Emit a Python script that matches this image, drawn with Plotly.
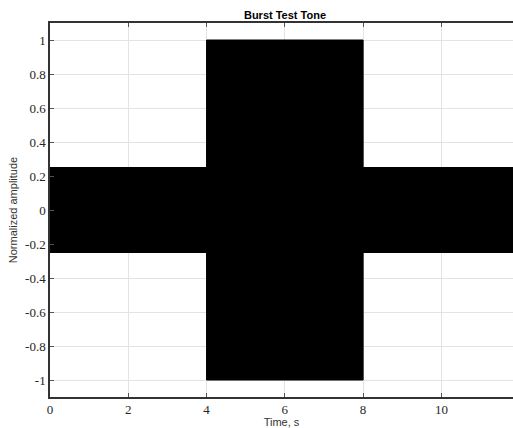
import plotly.graph_objects as go

# Burst tone envelope: segment edges (s) and peak amplitude within each segment
seg_edges = [0, 4, 8, 12]
seg_amplitudes = [0.25, 1.0, 0.25]

x_ticks = [0, 2, 4, 6, 8, 10]
y_ticks = [-1, -0.8, -0.6, -0.4, -0.2, 0, 0.2, 0.4, 0.6, 0.8, 1]
y_tick_labels = ["-1", "-0.8", "-0.6", "-0.4", "-0.2", "0", "0.2", "0.4", "0.6", "0.8", "1"]

# Build the filled envelope polygon (upper edge forward, lower edge backward)
xs, ys = [], []
for i, a in enumerate(seg_amplitudes):
    xs += [seg_edges[i], seg_edges[i + 1]]
    ys += [a, a]
for i in reversed(range(len(seg_amplitudes))):
    a = seg_amplitudes[i]
    xs += [seg_edges[i + 1], seg_edges[i]]
    ys += [-a, -a]

fig = go.Figure()
fig.add_trace(go.Scatter(
    x=xs, y=ys, mode="lines", fill="toself",
    fillcolor="black", line=dict(color="black", width=1),
    showlegend=False, hoverinfo="skip",
))

axis_common = dict(
    showgrid=True, gridcolor="#e3e3e3", gridwidth=1,
    zeroline=False, ticks="inside", ticklen=4, tickcolor="#555555",
    showline=True, linecolor="#333333", linewidth=1.5,
    tickfont=dict(family="Liberation Serif", size=13, color="#262626"),
)

fig.update_layout(
    width=513, height=428,
    margin=dict(l=50, r=0, t=23, b=31, autoexpand=False),
    plot_bgcolor="white", paper_bgcolor="white",
    title=dict(text="<b>Burst Test Tone</b>", x=285 / 513, xref="container",
               xanchor="center", y=1 - 15 / 428, yref="container", yanchor="middle",
               font=dict(family="Liberation Sans", size=11, color="black")),
    xaxis=dict(range=[0, 11.83], tickvals=x_ticks, mirror="ticks",
               title=dict(text="Time, s", standoff=2,
                          font=dict(family="Liberation Sans", size=11, color="#333333")),
               **axis_common),
    yaxis=dict(range=[-1.1, 1.1], tickvals=y_ticks, ticktext=y_tick_labels,
               title=dict(text="Normalized amplitude", standoff=5,
                          font=dict(family="Liberation Sans", size=11, color="#333333")),
               **axis_common),
)

fig.write_html("out.html", config={"displayModeBar": False},
               post_script="document.body.style.margin='0px';document.body.style.overflow='hidden';")
